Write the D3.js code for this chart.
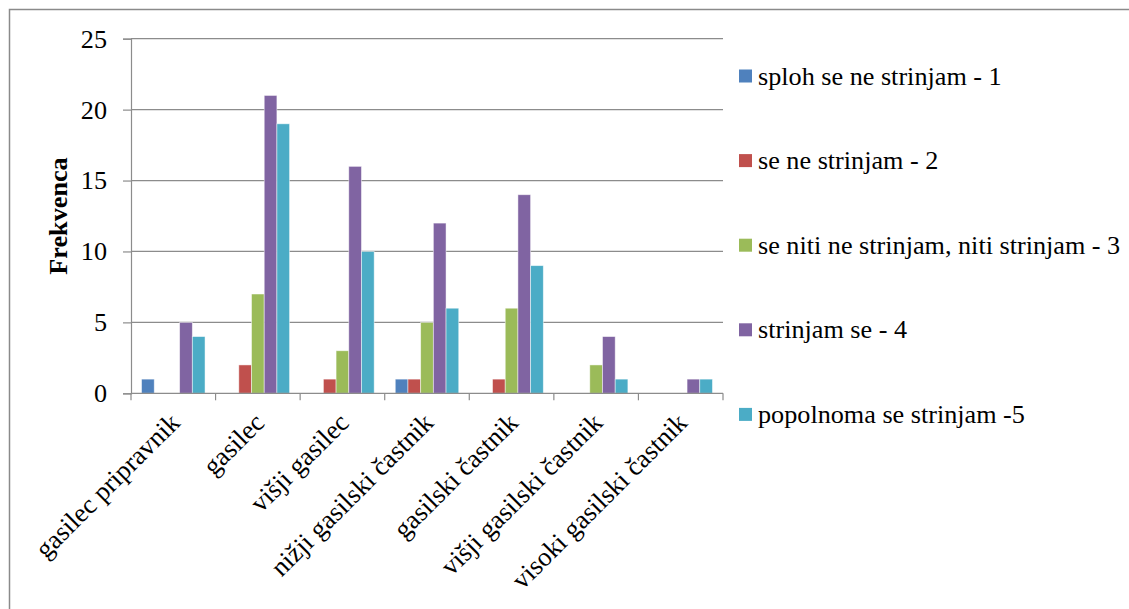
<!DOCTYPE html>
<html>
<head>
<meta charset="utf-8">
<script src="https://cdn.jsdelivr.net/npm/d3@7/dist/d3.min.js"></script>
<style>
  html, body { margin: 0; padding: 0; background: #fff; }
  svg { display: block; }
</style>
</head>
<body>
<svg id="chart" width="1129" height="609"></svg>
<script>
// Rank categories (x axis)
const categories = [
  "gasilec pripravnik",
  "gasilec",
  "višji gasilec",
  "nižji gasilski častnik",
  "gasilski častnik",
  "višji gasilski častnik",
  "visoki gasilski častnik"
];

// Answer options (series)
const seriesNames = [
  "sploh se ne strinjam - 1",
  "se ne strinjam - 2",
  "se niti ne strinjam, niti strinjam - 3",
  "strinjam se - 4",
  "popolnoma se strinjam -5"
];

// Frequencies per series, one value per category
const s1 = [1, 0, 0, 1, 0, 0, 0];
const s2 = [0, 2, 1, 1, 1, 0, 0];
const s3 = [0, 7, 3, 5, 6, 2, 0];
const s4 = [5, 21, 16, 12, 14, 4, 1];
const s5 = [4, 19, 10, 6, 9, 1, 1];
const seriesValues = [s1, s2, s3, s4, s5];

const yTicks = [0, 5, 10, 15, 20, 25];
const colors = ["#4F81BD", "#C0504D", "#9BBB59", "#8064A2", "#4BACC6"];

const FONT = "'Liberation Serif', 'Times New Roman', serif";
const fontSize = 26.2;
const labelSize = 26.6;
const gridColor = "#8c8c8c";

const svg = d3.select("#chart");
const plot = { left: 131, right: 723, top: 38.7, bottom: 393.3 };

// Outer chart border (left and top edges visible within the frame)
svg.append("path")
  .attr("d", "M9.5,700 L9.5,9.5 L1200,9.5")
  .attr("fill", "none")
  .attr("stroke", "#8a8a8a")
  .attr("stroke-width", 1.5);

const x = d3.scaleBand().domain(categories).range([plot.left, plot.right]).padding(0);
const xs = d3.scaleBand().domain(d3.range(seriesNames.length))
  .range([0, x.bandwidth()]).paddingInner(0).paddingOuter(0.83);
const y = d3.scaleLinear().domain([0, 25]).range([plot.bottom, plot.top]);

// Horizontal gridlines
svg.append("g").selectAll("line").data(yTicks.filter(t => t > 0)).join("line")
  .attr("x1", plot.left).attr("x2", plot.right)
  .attr("y1", d => y(d)).attr("y2", d => y(d))
  .attr("stroke", gridColor).attr("stroke-width", 1.2);

// Bars
const barData = [];
seriesValues.forEach((vals, si) => {
  vals.forEach((v, ci) => barData.push({ si, cat: categories[ci], v }));
});
svg.append("g").selectAll("rect").data(barData.filter(d => d.v > 0)).join("rect")
  .attr("x", d => x(d.cat) + xs(d.si))
  .attr("y", d => y(d.v))
  .attr("width", xs.bandwidth())
  .attr("height", d => y(0) - y(d.v))
  .attr("fill", d => colors[d.si])
  .attr("stroke", "#ffffff")
  .attr("stroke-opacity", 0.6)
  .attr("stroke-width", 0.8);

// Y axis
const yAxis = d3.axisLeft(y).tickValues(yTicks).tickSize(8).tickPadding(16);
const gy = svg.append("g").attr("transform", `translate(${plot.left},0)`).call(yAxis);
gy.attr("font-family", null).attr("font-size", null);
gy.select(".domain").attr("stroke", gridColor).attr("stroke-width", 1.2);
gy.selectAll(".tick line").attr("stroke", gridColor).attr("stroke-width", 1.2);
gy.selectAll(".tick text")
  .style("font-family", FONT)
  .style("font-size", fontSize + "px")
  .attr("fill", "#000");

// X axis: ticks at category boundaries
const boundaries = categories.map(c => x(c)).concat([plot.right]);
svg.append("line")
  .attr("x1", plot.left).attr("x2", plot.right)
  .attr("y1", plot.bottom).attr("y2", plot.bottom)
  .attr("stroke", gridColor).attr("stroke-width", 1.2);
svg.append("g").selectAll("line").data(boundaries).join("line")
  .attr("x1", d => d).attr("x2", d => d)
  .attr("y1", plot.bottom).attr("y2", plot.bottom + 7)
  .attr("stroke", gridColor).attr("stroke-width", 1.2);

// Rotated category labels
svg.append("g").selectAll("text").data(categories).join("text")
  .attr("transform", d => `translate(${x(d) + x.bandwidth() / 2 + 8},${plot.bottom + 31}) rotate(-45)`)
  .attr("text-anchor", "end")
  .style("font-family", FONT)
  .style("font-size", labelSize + "px")
  .text(d => d);

// Y axis title
svg.append("text")
  .attr("transform", `translate(67,${(plot.top + plot.bottom) / 2}) rotate(-90)`)
  .attr("text-anchor", "middle")
  .style("font-family", FONT)
  .style("font-size", fontSize + "px")
  .style("font-weight", "bold")
  .text("Frekvenca");

// Legend
const legendRows = svg.append("g").selectAll("g").data(seriesNames).join("g")
  .attr("transform", (d, i) => `translate(739,${76 + i * 84.6})`);
legendRows.append("rect")
  .attr("x", 0).attr("y", -6.5)
  .attr("width", 13).attr("height", 13)
  .attr("fill", (d, i) => colors[i]);
legendRows.append("text")
  .attr("x", 19).attr("y", 0).attr("dy", "0.33em")
  .style("font-family", FONT)
  .style("font-size", fontSize + "px")
  .text(d => d);
</script>
</body>
</html>
